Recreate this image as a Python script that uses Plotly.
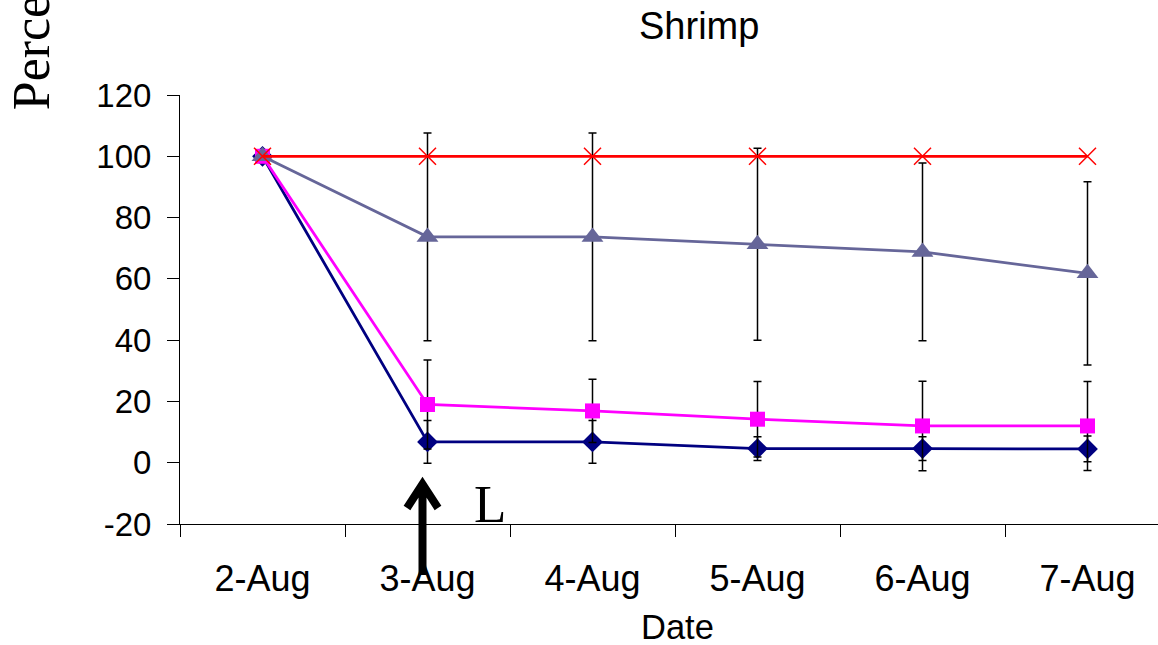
import plotly.graph_objects as go

# ---- data ----
dates = ["2-Aug", "3-Aug", "4-Aug", "5-Aug", "6-Aug", "7-Aug"]
diamond_vals = [100, 6.8, 6.8, 4.6, 4.6, 4.5]
diamond_err = [0, 7.0, 7.0, 3.9, 3.9, 4.2]
square_vals = [100, 19.0, 16.9, 14.2, 12.0, 12.0]
square_err = [0, 14.5, 10.3, 12.3, 14.6, 14.5]
triangle_vals = [100, 73.7, 73.7, 71.3, 68.8, 61.8]
triangle_err = [0, 33.9, 33.9, 31.3, 29.0, 29.9]
cross_vals = [100, 100, 100, 100, 100, 100]

y_ticks = [-20, 0, 20, 40, 60, 80, 100, 120]
y_tick_labels = ["-20", "0", "20", "40", "60", "80", "100", "120"]

title_text = "Shrimp"
x_title = "Date"
y_title = "Percent"
arrow_label = "L"

# ---- layout geometry (pixels) ----
W, H = 1158, 645
L_, T_, B_ = 180, 94.7, 121
plot_w = W - L_
plot_h = H - T_ - B_


def px2paper_x(px):
    return (px - L_) / plot_w


def px2paper_y(py):
    return (H - B_ - py) / plot_h


SANS = "Arial, Liberation Sans, sans-serif"
SERIF = "Times New Roman, Liberation Serif, serif"

fig = go.Figure()


def err(vals, col="black"):
    return dict(type="data", array=vals, visible=True, color=col,
                thickness=1.5, width=4)


fig.add_trace(go.Scatter(
    x=dates, y=diamond_vals, mode="lines+markers",
    line=dict(color="#000080", width=2.8),
    marker=dict(symbol="diamond", size=16, color="#000080"),
    error_y=err(diamond_err), showlegend=False))
fig.add_trace(go.Scatter(
    x=dates, y=square_vals, mode="lines+markers",
    line=dict(color="#FF00FF", width=2.8),
    marker=dict(symbol="square", size=15, color="#FF00FF"),
    error_y=err(square_err), showlegend=False))
fig.add_trace(go.Scatter(
    x=dates, y=triangle_vals, mode="lines+markers",
    line=dict(color="#666699", width=2.8),
    marker=dict(symbol="triangle-up", size=19, color="#666699"),
    error_y=err(triangle_err), showlegend=False))
fig.add_trace(go.Scatter(
    x=dates, y=cross_vals, mode="lines+markers",
    line=dict(color="#FF0000", width=2.8),
    marker=dict(symbol="x-thin", size=17, color="#FF0000",
                line=dict(color="#FF0000", width=1.5)),
    showlegend=False))

x_end = -0.5 + plot_w / 165.0

fig.update_layout(
    width=W, height=H,
    margin=dict(l=L_, r=0, t=T_, b=B_, pad=0),
    plot_bgcolor="white", paper_bgcolor="white",
    font=dict(family=SANS, color="black", size=34),
    xaxis=dict(
        type="category", range=[-0.5, x_end], tickson="boundaries",
        showline=True, linecolor="black", linewidth=1,
        ticks="outside", ticklen=12, tickcolor="black", tickwidth=1,
        showgrid=False, zeroline=False,
        tickfont=dict(family=SANS, size=36, color="black"),
        ticklabelstandoff=23,
    ),
    yaxis=dict(
        range=[-20, 120], tickvals=y_ticks, ticktext=y_tick_labels,
        showline=True, linecolor="black", linewidth=1,
        ticks="outside", ticklen=12, tickcolor="black", tickwidth=1,
        showgrid=False, zeroline=False,
        tickfont=dict(family=SANS, size=33, color="black"),
        ticklabelstandoff=9,
    ),
)

annotations = [
    dict(text=title_text, x=px2paper_x(699), y=px2paper_y(25.5),
         xref="paper", yref="paper", xanchor="center", yanchor="middle",
         showarrow=False, font=dict(family=SANS, size=38, color="black")),
    dict(text=x_title, x=px2paper_x(677), y=px2paper_y(627.5),
         xref="paper", yref="paper", xanchor="center", yanchor="middle",
         showarrow=False, font=dict(family=SANS, size=34.5, color="black")),
    dict(text=y_title, x=px2paper_x(31), y=px2paper_y(112),
         xref="paper", yref="paper", xanchor="center", yanchor="bottom",
         textangle=-90, showarrow=False,
         font=dict(family=SERIF, size=52, color="black")),
    dict(text=arrow_label, x=px2paper_x(490), y=px2paper_y(504),
         xref="paper", yref="paper", xanchor="center", yanchor="middle",
         showarrow=False, font=dict(family=SERIF, size=53, color="black")),
]
fig.update_layout(annotations=annotations)

# arrow (up arrow under 3-Aug)
ax = px2paper_x(422.5)
path = (f"M {ax} {px2paper_y(575)} L {ax} {px2paper_y(484)} "
        f"M {px2paper_x(407)} {px2paper_y(508)} L {ax} {px2paper_y(484)} "
        f"L {px2paper_x(438)} {px2paper_y(508)}")
fig.add_shape(type="path", path=path, xref="paper", yref="paper",
              line=dict(color="black", width=8), layer="above")

fig.write_html("out.html", config={"displayModeBar": False},
               post_script="document.body.style.margin='0';")
